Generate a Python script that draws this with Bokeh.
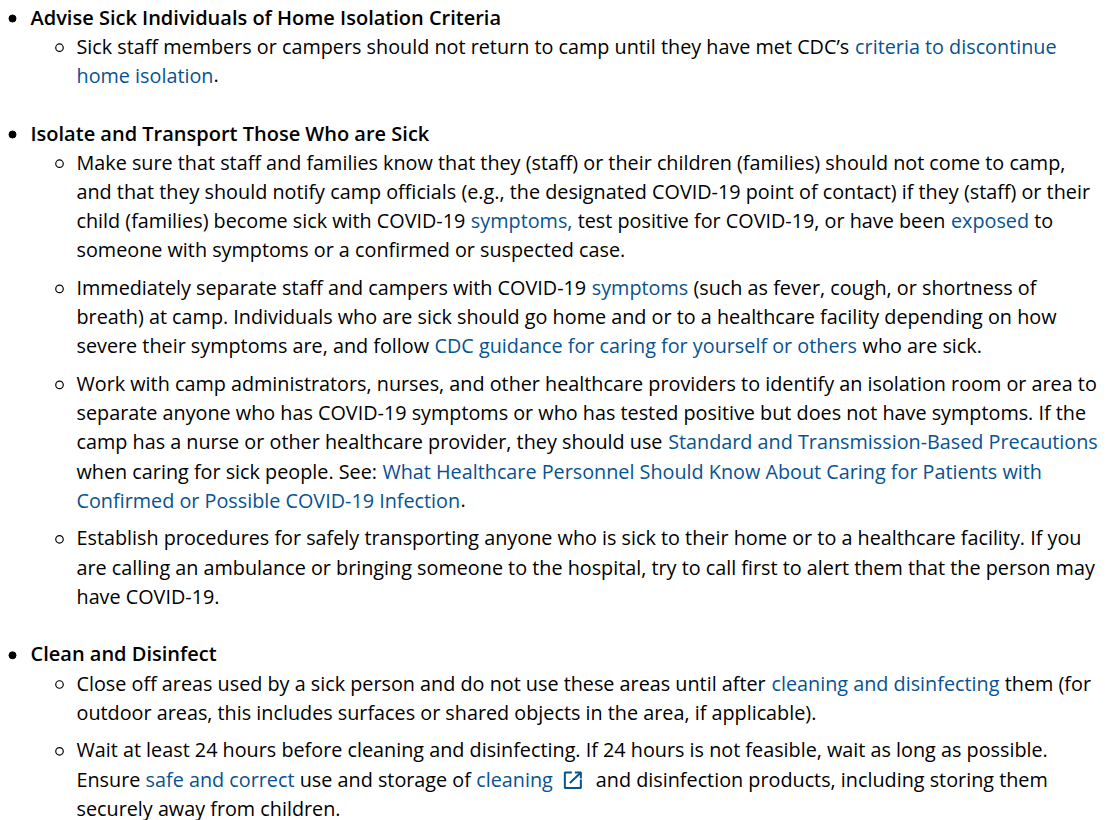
import os, re, glob, subprocess
from bokeh.plotting import figure
from bokeh.models import Range1d, ColumnDataSource
from bokeh.core.properties import value
from bokeh.embed import file_html
from bokeh.resources import INLINE

# ---------------- content ----------------
headings = [
    "Advise Sick Individuals of Home Isolation Criteria",
    "Isolate and Transport Those Who are Sick",
    "Clean and Disinfect",
]
items_section1 = [
    ["Sick staff members or campers should not return to camp until they have met CDC\u2019s [criteria to discontinue]",
     "[home isolation]."],
]
items_section2 = [
    ["Make sure that staff and families know that they (staff) or their children (families) should not come to camp,",
     "and that they should notify camp officials (e.g., the designated COVID-19 point of contact) if they (staff) or their",
     "child (families) become sick with COVID-19 [symptoms,] test positive for COVID-19, or have been [exposed] to",
     "someone with symptoms or a confirmed or suspected case."],
    ["Immediately separate staff and campers with COVID-19 [symptoms] (such as fever, cough, or shortness of",
     "breath) at camp. Individuals who are sick should go home and or to a healthcare facility depending on how",
     "severe their symptoms are, and follow [CDC guidance for caring for yourself or others] who are sick."],
    ["Work with camp administrators, nurses, and other healthcare providers to identify an isolation room or area to",
     "separate anyone who has COVID-19 symptoms or who has tested positive but does not have symptoms. If the",
     "camp has a nurse or other healthcare provider, they should use [Standard and Transmission-Based Precautions]",
     "when caring for sick people. See: [What Healthcare Personnel Should Know About Caring for Patients with]",
     "[Confirmed or Possible COVID-19 Infection]."],
    ["Establish procedures for safely transporting anyone who is sick to their home or to a healthcare facility. If you",
     "are calling an ambulance or bringing someone to the hospital, try to call first to alert them that the person may",
     "have COVID-19."],
]
items_section3 = [
    ["Close off areas used by a sick person and do not use these areas until after [cleaning and disinfecting] them (for",
     "outdoor areas, this includes surfaces or shared objects in the area, if applicable)."],
    ["Wait at least 24 hours before cleaning and disinfecting. If 24 hours is not feasible, wait as long as possible.",
     "Ensure [safe and correct] use and storage of [cleaning]{icon}and disinfection products, including storing them",
     "securely away from children."],
]
sections = [(headings[0], items_section1), (headings[1], items_section2), (headings[2], items_section3)]

# measured line widths in the reference (px), used to pick the font size
ref_width_lines = [items_section2[2][0], items_section2[3][0], items_section2[1][0],
                   items_section2[3][1], items_section2[0][1]]
ref_widths = [1023.0, 1008.0, 962.0, 1022.0, 1017.0]

# ---------------- style / layout ----------------
TEXT = "#000000"
LINK = "#075290"
X_HEAD, X_ITEM = 30, 76
X_DISC, X_CIRC = 12, 59
Y0, LH, ITEM_GAP, SECTION_GAP = 18, 29.2, 8.4, 28.4
BASE = -1.5
ICON_ADV = 43

# ---------------- font measurement ----------------
def _find_font():
    try:
        out = subprocess.run(["fc-match", "-f", "%{file}", "Open Sans:style=Regular"],
                             capture_output=True, text=True, timeout=5).stdout.strip()
        if out and "opensans" in os.path.basename(out).lower().replace("-", "").replace("_", ""):
            return out
    except Exception:
        pass
    found = []
    for d in ["/usr/share/fonts", "/usr/local/share/fonts", os.path.expanduser("~/.fonts"),
              os.path.expanduser("~/.local/share/fonts")]:
        found += glob.glob(os.path.join(d, "**", "OpenSans*.ttf"), recursive=True)
    reg = [f for f in found if "Regular" in os.path.basename(f) and "Condensed" not in f]
    if reg:
        return reg[0]
    var = [f for f in found if "wght" in os.path.basename(f) and "Italic" not in f]
    if var:
        return var[0]
    return None

F100 = None
try:
    from PIL import ImageFont
    _p = _find_font()
    if _p:
        F100 = ImageFont.truetype(_p, 100)
except Exception:
    F100 = None

def width(s, fs):
    if F100 is not None:
        return F100.getlength(s) * fs / 100.0
    return len(s) * 0.5 * fs

if F100 is not None:
    _est = [100.0 * w / F100.getlength(re.sub(r"[\[\]]", "", s)) for s, w in zip(ref_width_lines, ref_widths)]
    FS = round(sum(_est) / len(_est), 1)
else:
    FS = 18.0

# ---------------- build glyph data ----------------
tx, ty, tt, tc = [], [], [], []
hx, hy, ht = [], [], []
dx, dy, cx, cy = [], [], [], []
icon_xs, icon_ys = [], []

seg_re = re.compile(r"\[([^\]]*)\]|\{icon\}|[^\[\{]+")

def layout_line(line, y):
    cur = X_ITEM
    for m in seg_re.finditer(line):
        if m.group(0) == "{icon}":
            L, R = cur + 12, cur + 28
            T, B = y - 8, y + 7.5
            icon_xs.append([L + 7, L, L, R, R]); icon_ys.append([T, T, B, B, T + 7])
            icon_xs.append([L + 5, R]); icon_ys.append([B - 5, T])
            icon_xs.append([R - 6, R, R]); icon_ys.append([T, T, T + 6])
            cur += ICON_ADV
            continue
        if m.group(1) is not None:
            txt, col = m.group(1), LINK
        else:
            txt, col = m.group(0), TEXT
        lead = len(txt) - len(txt.lstrip(" "))
        xs = cur + width(txt[:lead], FS)
        if txt.strip():
            tx.append(xs); ty.append(y + BASE); tt.append(txt.strip()); tc.append(col)
        cur += width(txt, FS)

y = Y0
for si, (head, items) in enumerate(sections):
    if si > 0:
        y += LH + SECTION_GAP
    hx.append(X_HEAD); hy.append(y + BASE); ht.append(head)
    dx.append(X_DISC); dy.append(y)
    for ii, item in enumerate(items):
        for li, line in enumerate(item):
            y += LH
            if li == 0 and ii > 0:
                y += ITEM_GAP
            if li == 0:
                cx.append(X_CIRC); cy.append(y)
            layout_line(line, y)

# ---------------- figure ----------------
p = figure(width=1107, height=820, x_range=Range1d(0, 1107), y_range=Range1d(820, 0),
           x_axis_type=None, y_axis_type=None, output_backend="svg", toolbar_location=None,
           min_border=0, background_fill_color="white", border_fill_color="white")
p.outline_line_color = None
p.grid.visible = False

body_src = ColumnDataSource(dict(x=tx, y=ty, text=tt, color=tc))
p.text(x="x", y="y", text="text", text_color="color", source=body_src,
       text_font=value("Open Sans"), text_font_size=value(f"{FS}px"),
       text_baseline="alphabetic", text_align="left")

head_src = ColumnDataSource(dict(x=hx, y=hy, text=ht))
hr = p.text(x="x", y="y", text="text", source=head_src, text_color=TEXT,
            text_font=value("Open Sans"), text_baseline="alphabetic", text_align="left")
try:
    hr.glyph.text_font_size = value(f"600 {int(round(FS))}px")
except Exception:
    hr.glyph.text_font_size = value(f"{FS}px")
    hr.glyph.text_font_style = "bold"

p.scatter(x=dx, y=dy, marker="circle", size=7, fill_color=TEXT, line_color=TEXT)
p.scatter(x=cx, y=cy, marker="circle", size=7.5, fill_color=None, line_color=TEXT, line_width=1.2)
if icon_xs:
    p.multi_line(xs=icon_xs, ys=icon_ys, line_color=LINK, line_width=2)

open("out.html", "w").write(file_html(p, INLINE))
